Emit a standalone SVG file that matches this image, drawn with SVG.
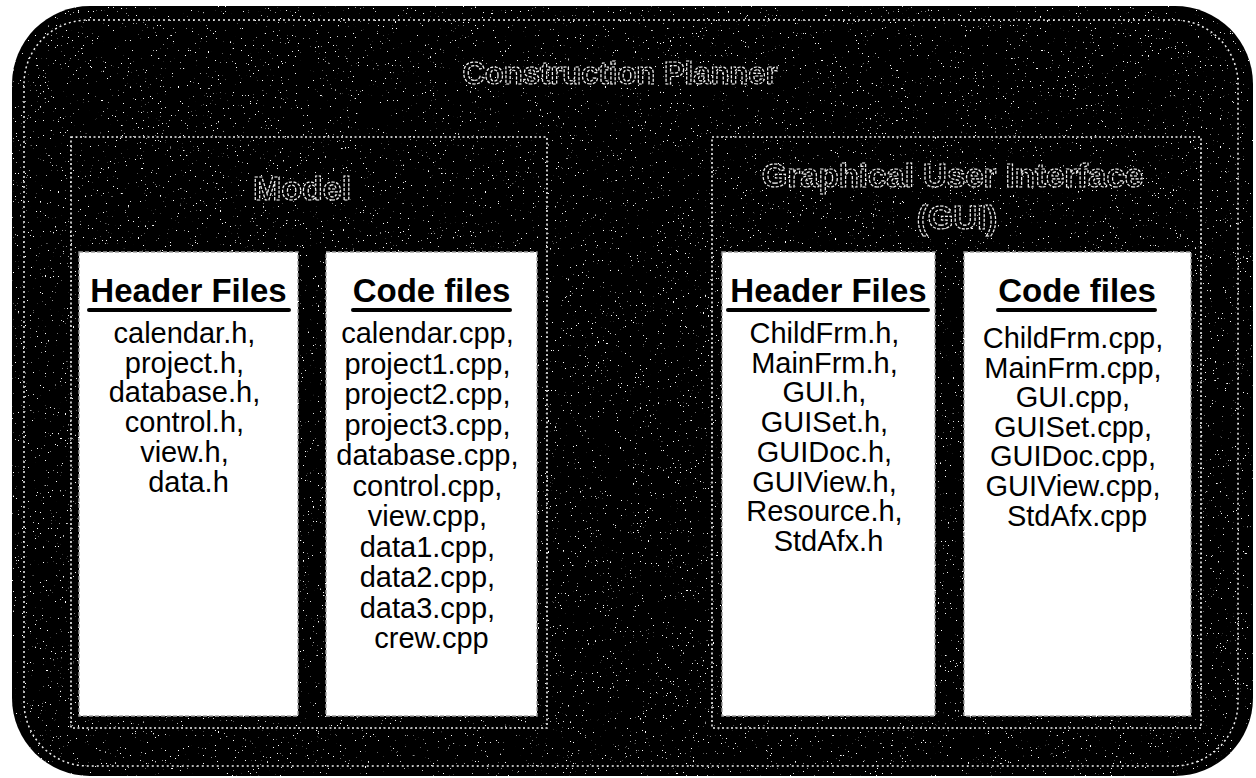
<svg xmlns="http://www.w3.org/2000/svg" width="1256" height="778" viewBox="0 0 1256 778">
  <style>
    .ol{font-family:"Liberation Sans",Arial,sans-serif;font-weight:bold;fill:#000;stroke:#f4f4f4;stroke-width:1.2;stroke-dasharray:3 1.5;text-anchor:middle}
    .hd{font-family:"Liberation Sans",Arial,sans-serif;font-weight:bold;font-size:33px;text-anchor:middle;fill:#000}
    .bd{font-family:"Liberation Sans",Arial,sans-serif;font-size:29px;text-anchor:middle;fill:#000}
    .ul{stroke:#000;stroke-width:4;stroke-linecap:round}
    .panel{fill:none;stroke:#f0f0f0;stroke-width:1.6;stroke-dasharray:2 2.5}
    .frame{fill:none;stroke:#f0f0f0;stroke-width:1.5;stroke-dasharray:2 3}
    .box{fill:#fff;stroke:#a0a0a0;stroke-width:1.4;stroke-dasharray:4 2}
  </style>
  <defs>
    <clipPath id="outerClip">
      <rect x="12" y="6" width="1241" height="770" rx="78"/>
    </clipPath>
    <!-- sparse white grain over the black body -->
    <filter id="speckle" filterUnits="userSpaceOnUse" x="0" y="0" width="1256" height="778">
      <feTurbulence type="fractalNoise" baseFrequency="0.6" numOctaves="2" seed="7"/>
      <feColorMatrix type="matrix" values="0 0 0 0 1  0 0 0 0 1  0 0 0 0 1  20 0 0 0 -14.55"/>
    </filter>
  </defs>

  <rect width="1256" height="778" fill="#fff"/>

  <!-- application container -->
  <g id="application">
    <rect x="12" y="6" width="1241" height="770" rx="78" fill="#000"/>
    <rect x="12" y="6" width="1241" height="770" filter="url(#speckle)" clip-path="url(#outerClip)"/>
    <rect x="24" y="20" width="1214" height="746" rx="64" class="frame"/>
    <g opacity="0.99">
      <text class="ol" x="620" y="84" font-size="31">Construction Planner</text>
    </g>
  </g>

  <!-- Model panel -->
  <g id="model">
    <rect x="71" y="137" width="476" height="591" class="panel"/>
    <g opacity="0.99">
      <text class="ol" x="302" y="200" font-size="34">Model</text>
    </g>
  </g>

  <g id="model-headers">
    <rect x="79" y="252" width="219" height="464" class="box"/>
    <text class="hd" x="188.5" y="302">Header Files</text>
    <line class="ul" x1="89" y1="310" x2="289" y2="310"/>
    <text class="bd">
      <tspan x="188.5" y="343">calendar.h,</tspan>
      <tspan x="188.5" y="372.7">project.h,</tspan>
      <tspan x="188.5" y="402.4">database.h,</tspan>
      <tspan x="188.5" y="432.1">control.h,</tspan>
      <tspan x="188.5" y="461.8">view.h,</tspan>
      <tspan x="188.5" y="491.5">data.h</tspan>
    </text>
  </g>

  <g id="model-code">
    <rect x="326" y="252" width="211" height="464" class="box"/>
    <text class="hd" x="431.5" y="302">Code files</text>
    <line class="ul" x1="353" y1="310" x2="510" y2="310"/>
    <text class="bd">
      <tspan x="431.5" y="343">calendar.cpp,</tspan>
      <tspan x="431.5" y="373.5">project1.cpp,</tspan>
      <tspan x="431.5" y="404">project2.cpp,</tspan>
      <tspan x="431.5" y="434.5">project3.cpp,</tspan>
      <tspan x="431.5" y="465">database.cpp,</tspan>
      <tspan x="431.5" y="495.5">control.cpp,</tspan>
      <tspan x="431.5" y="526">view.cpp,</tspan>
      <tspan x="431.5" y="556.5">data1.cpp,</tspan>
      <tspan x="431.5" y="587">data2.cpp,</tspan>
      <tspan x="431.5" y="617.5">data3.cpp,</tspan>
      <tspan x="431.5" y="648">crew.cpp</tspan>
    </text>
  </g>

  <!-- GUI panel -->
  <g id="gui">
    <rect x="712" y="137" width="489" height="591" class="panel"/>
    <g opacity="0.99">
      <text class="ol" font-size="33">
        <tspan x="957" y="187">Graphical User Interface</tspan>
        <tspan x="957" y="229">(GUI)</tspan>
      </text>
    </g>
  </g>

  <g id="gui-headers">
    <rect x="722" y="252" width="213" height="464" class="box"/>
    <text class="hd" x="828.5" y="302">Header Files</text>
    <line class="ul" x1="728" y1="310" x2="928" y2="310"/>
    <text class="bd">
      <tspan x="828.5" y="343">ChildFrm.h,</tspan>
      <tspan x="828.5" y="372.7">MainFrm.h,</tspan>
      <tspan x="828.5" y="402.4">GUI.h,</tspan>
      <tspan x="828.5" y="432.1">GUISet.h,</tspan>
      <tspan x="828.5" y="461.8">GUIDoc.h,</tspan>
      <tspan x="828.5" y="491.5">GUIView.h,</tspan>
      <tspan x="828.5" y="521.2">Resource.h,</tspan>
      <tspan x="828.5" y="550.9">StdAfx.h</tspan>
    </text>
  </g>

  <g id="gui-code">
    <rect x="964" y="252" width="227" height="464" class="box"/>
    <text class="hd" x="1077" y="302">Code files</text>
    <line class="ul" x1="998" y1="310" x2="1155" y2="310"/>
    <text class="bd">
      <tspan x="1077" y="348">ChildFrm.cpp,</tspan>
      <tspan x="1077" y="377.6">MainFrm.cpp,</tspan>
      <tspan x="1077" y="407.2">GUI.cpp,</tspan>
      <tspan x="1077" y="436.8">GUISet.cpp,</tspan>
      <tspan x="1077" y="466.4">GUIDoc.cpp,</tspan>
      <tspan x="1077" y="496">GUIView.cpp,</tspan>
      <tspan x="1077" y="525.6">StdAfx.cpp</tspan>
    </text>
  </g>

  <!-- no connectors between the nested modules -->
  <g id="connectors"/>
</svg>
